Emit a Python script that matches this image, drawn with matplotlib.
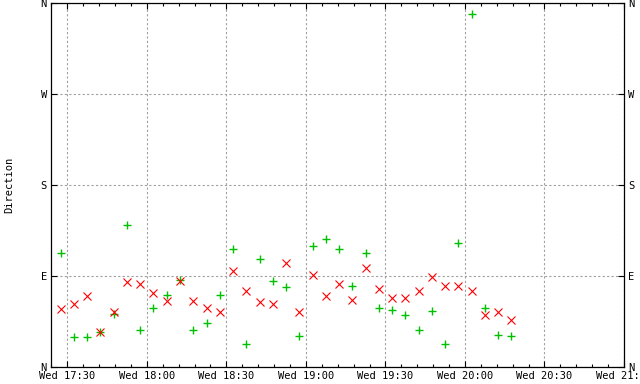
import matplotlib
matplotlib.use("Agg")
import matplotlib.pyplot as plt
import matplotlib.dates as mdates
from datetime import datetime

day = "2024-01-03 "  # a Wednesday

times = ["17:27:30", "17:32:30", "17:37:30", "17:42:30", "17:47:30", "17:52:30", "17:57:30",
         "18:02:30", "18:07:30", "18:12:30", "18:17:30", "18:22:30", "18:27:30", "18:32:30",
         "18:37:30", "18:42:30", "18:47:30", "18:52:30", "18:57:30", "19:02:30", "19:07:30",
         "19:12:30", "19:17:30", "19:22:30", "19:27:30", "19:32:30", "19:37:30", "19:42:30",
         "19:47:30", "19:52:30", "19:57:30", "20:02:30", "20:07:30", "20:12:30", "20:17:30"]

# red x series (degrees)
dir_red = [57.1, 62.0, 69.9, 34.3, 54.4, 83.8, 81.8, 72.9, 65.0, 84.8, 65.0, 58.1,
           54.1, 94.6, 74.9, 64.0, 62.0, 102.6, 54.1, 90.7, 69.9, 81.8, 66.0, 97.6,
           76.8, 67.9, 67.9, 74.9, 88.7, 79.8, 79.8, 74.9, 51.1, 54.1, 46.2]

# green + series (degrees)
dir_green = [112.4, 29.4, 29.4, 34.3, 52.1, 140.1, 36.6, 58.1, 70.9, 85.7, 36.3, 43.2,
             70.9, 116.4, 22.4, 106.5, 84.8, 78.8, 30.4, 119.7, 126.3, 116.4, 79.8, 112.4,
             58.1, 56.1, 51.1, 36.3, 55.1, 22.4, 122.3, 348.8, 58.1, 31.4, 30.4]

ytick_vals = [0, 90, 180, 270, 360]
ytick_labels = ["N", "E", "S", "W", "N"]

t = [datetime.strptime(day + s, "%Y-%m-%d %H:%M:%S") for s in times]

plt.rcParams["font.family"] = "DejaVu Sans Mono"
plt.rcParams["font.size"] = 7.5

fig = plt.figure(figsize=(6.4, 3.84), dpi=100)
ax = fig.add_axes([51 / 640, 1 - 367 / 384, (624 - 51) / 640, (367 - 3) / 384])

ax.plot(t, dir_green, linestyle="none", marker="+", color="#00c000",
        markersize=6, markeredgewidth=1.0)
ax.plot(t, dir_red, linestyle="none", marker="x", color="#ff0000",
        markersize=6, markeredgewidth=0.8)

ax.set_ylim(0, 360)
ax.set_xlim(datetime(2024, 1, 3, 17, 23, 50), datetime(2024, 1, 3, 21, 0, 0))

ax.set_yticks(ytick_vals)
ax.set_yticklabels(ytick_labels)
ax.xaxis.set_major_locator(mdates.MinuteLocator(byminute=[0, 30]))
ax.xaxis.set_minor_locator(mdates.MinuteLocator(byminute=range(0, 60, 6)))
ax.xaxis.set_major_formatter(mdates.DateFormatter("%a %H:%M"))

ax.tick_params(which="both", direction="in", top=True, right=True,
               labelright=True, color="black", width=0.8)
ax.tick_params(which="major", length=4, pad=3)
ax.tick_params(which="minor", length=2.5)

ax.grid(True, which="major", color="#a0a0a0", linestyle=(0, (2, 2)), linewidth=0.8)
for s in ax.spines.values():
    s.set_linewidth(0.9)
    s.set_color("black")

ax.set_ylabel("Direction")
ax.yaxis.set_label_coords((14 - 51) / 573, 0.5)

fig.savefig("out.png", dpi=100)
